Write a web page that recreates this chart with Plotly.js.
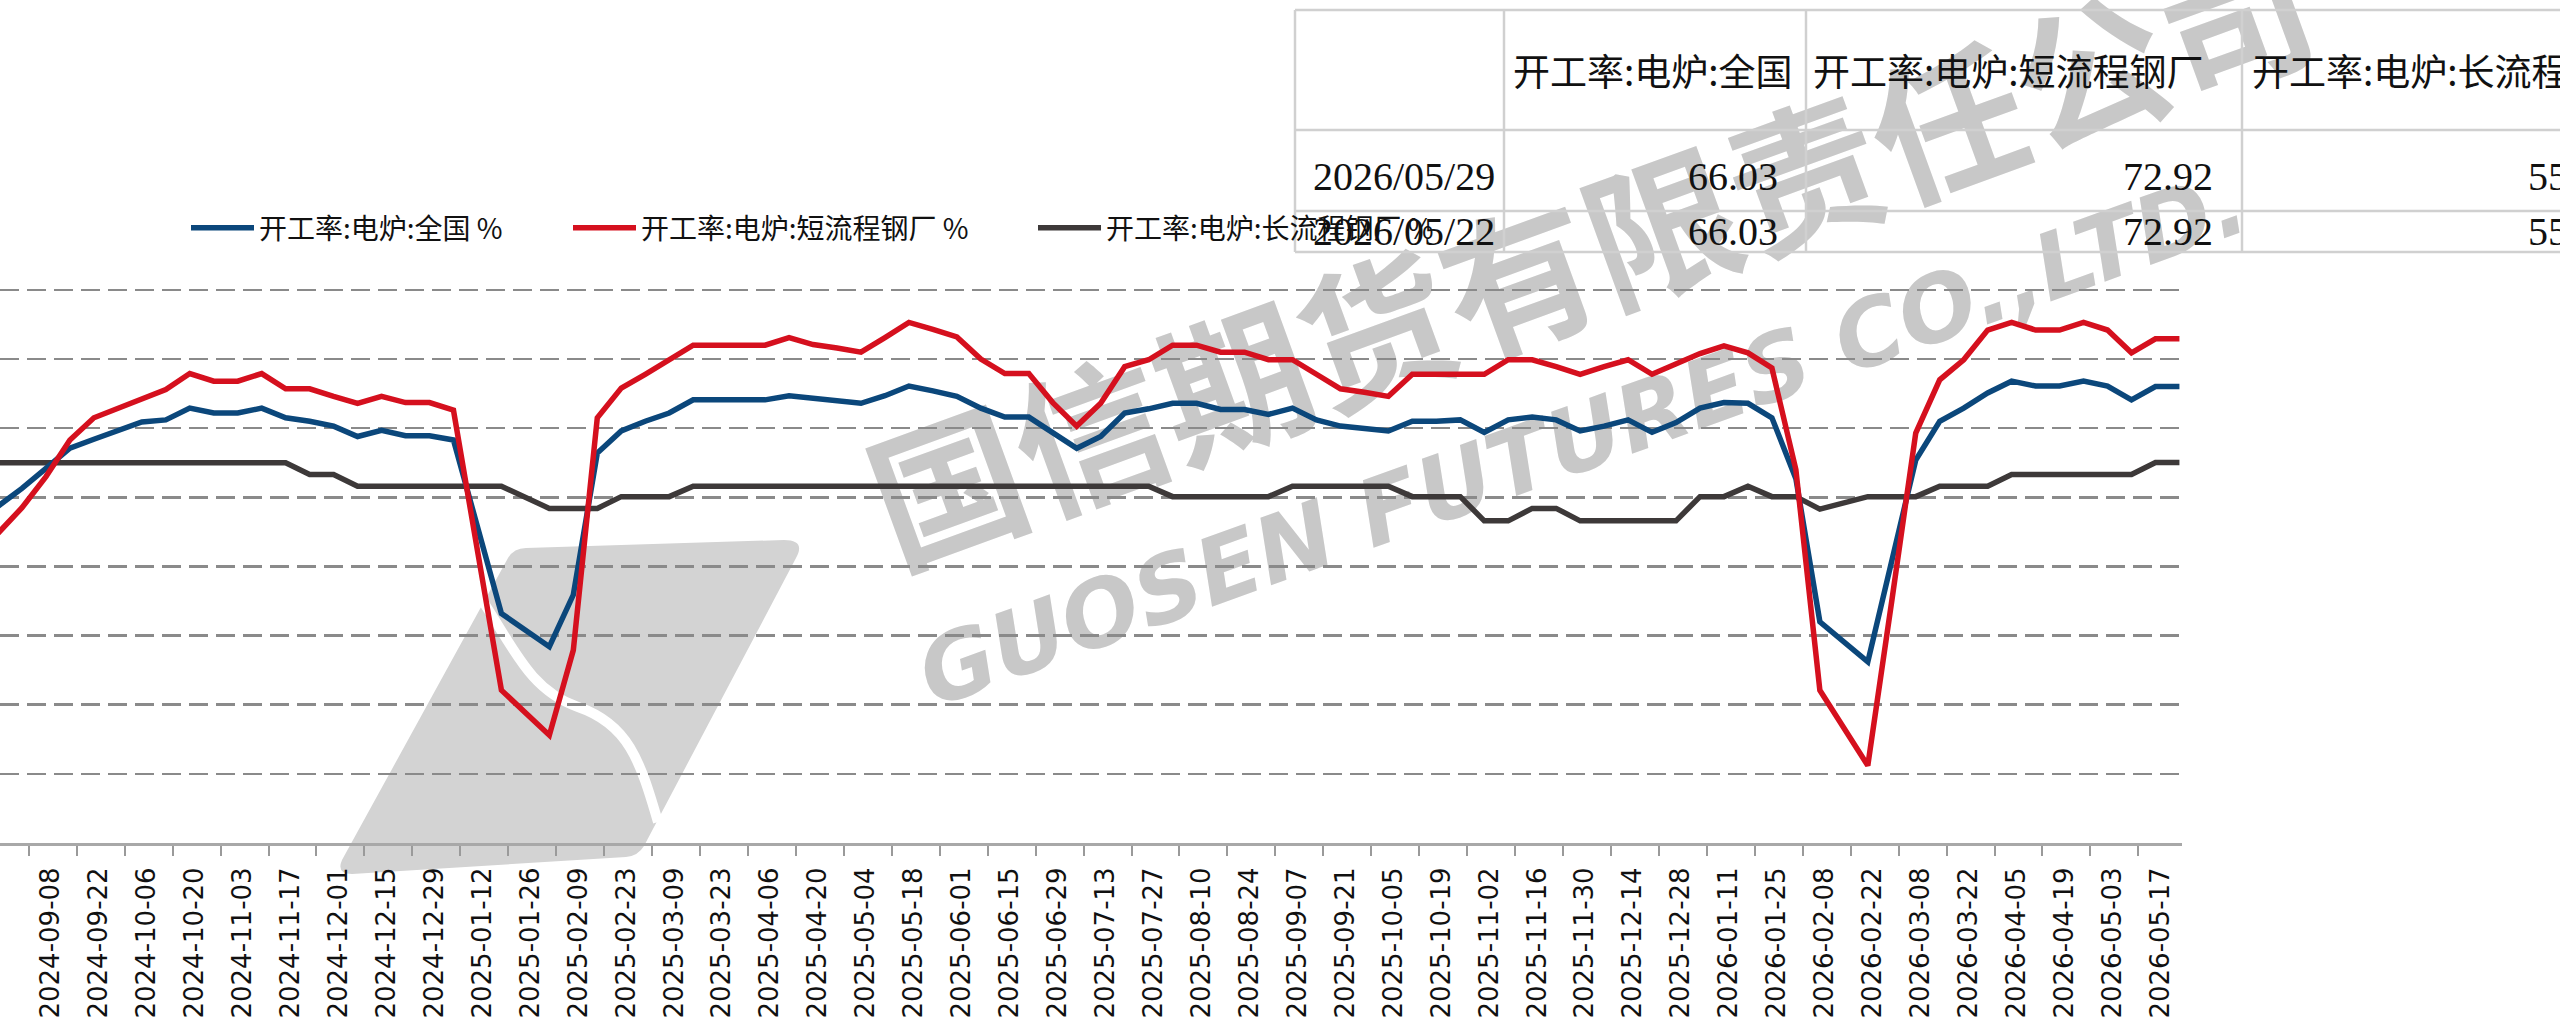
<!DOCTYPE html>
<html><head><meta charset="utf-8">
<script src="https://cdn.plot.ly/plotly-3.0.1.min.js"></script>
<style>
html,body{margin:0;padding:0;background:#fff;width:2560px;height:1026px;overflow:hidden}
#bg,#chart{position:absolute;left:0;top:0;width:2560px;height:1026px}
</style></head><body>
<div id="bg"></div><div id="chart"></div>
<script>
// ---------- data ----------
const dates = [
'2024-08-30','2024-09-06','2024-09-13','2024-09-20','2024-09-27','2024-10-04','2024-10-11','2024-10-18','2024-10-25','2024-11-01',
'2024-11-08','2024-11-15','2024-11-22','2024-11-29','2024-12-06','2024-12-13','2024-12-20','2024-12-27','2025-01-03','2025-01-10',
'2025-01-17','2025-01-24','2025-02-07','2025-02-14','2025-02-21','2025-02-28','2025-03-07','2025-03-14','2025-03-21','2025-03-28',
'2025-04-04','2025-04-11','2025-04-18','2025-04-25','2025-05-02','2025-05-09','2025-05-16','2025-05-23','2025-05-30','2025-06-06',
'2025-06-13','2025-06-20','2025-06-27','2025-07-04','2025-07-11','2025-07-18','2025-07-25','2025-08-01','2025-08-08','2025-08-15',
'2025-08-22','2025-08-29','2025-09-05','2025-09-12','2025-09-19','2025-09-26','2025-10-03','2025-10-10','2025-10-17','2025-10-24',
'2025-10-31','2025-11-07','2025-11-14','2025-11-21','2025-11-28','2025-12-05','2025-12-12','2025-12-19','2025-12-26','2026-01-02',
'2026-01-09','2026-01-16','2026-01-23','2026-01-30','2026-02-06','2026-02-13','2026-02-27','2026-03-06','2026-03-13','2026-03-20',
'2026-03-27','2026-04-03','2026-04-10','2026-04-17','2026-04-24','2026-05-01','2026-05-08','2026-05-15','2026-05-22','2026-05-29'];

const national = [
48.7,51.3,54.2,57.1,58.4,59.6,60.9,61.2,62.9,62.2,
62.2,62.9,61.5,61.0,60.3,58.8,59.7,58.9,58.9,58.3,
45.8,33.2,28.4,35.9,56.4,59.6,61.0,62.2,64.1,64.1,
64.1,64.1,64.7,64.4,64.0,63.6,64.7,66.1,65.4,64.6,
62.9,61.6,61.6,59.3,57.1,58.8,62.2,62.8,63.6,63.6,
62.7,62.7,62.0,62.9,61.2,60.3,60.0,59.6,61.0,61.0,
61.2,59.4,61.2,61.6,61.2,59.6,60.3,61.2,59.4,60.8,
62.9,63.7,63.6,61.5,52.7,32.0,26.2,40.5,55.4,61.0,
62.9,65.1,66.8,66.1,66.1,66.8,66.1,64.1,66.03,66.03];

const shortProcess = [
44.8,48.5,53.0,58.3,61.5,62.9,64.4,65.6,67.9,66.8,
66.8,67.9,65.7,65.7,64.6,63.6,64.6,63.7,63.7,62.6,
42.3,22.1,15.6,27.9,61.5,65.8,67.8,69.9,72.0,72.0,
72.0,72.0,73.1,72.1,71.6,71.0,73.1,75.3,74.3,73.2,
70.0,67.9,67.9,63.7,60.3,63.6,68.9,69.9,72.0,72.0,
71.0,71.0,69.9,69.9,67.8,65.7,65.2,64.6,67.8,67.8,
67.8,67.8,69.9,69.9,68.9,67.8,68.9,69.9,67.8,69.2,
70.8,71.9,70.9,68.7,54.0,22.1,11.2,35.0,59.3,67.0,
69.9,74.2,75.3,74.2,74.2,75.3,74.2,70.9,72.92,72.92];

const longProcess = [
55.0,55.0,55.0,55.0,55.0,55.0,55.0,55.0,55.0,55.0,
55.0,55.0,55.0,53.3,53.3,51.6,51.6,51.6,51.6,51.6,
51.6,51.6,48.4,48.4,48.4,50.1,50.1,50.1,51.6,51.6,
51.6,51.6,51.6,51.6,51.6,51.6,51.6,51.6,51.6,51.6,
51.6,51.6,51.6,51.6,51.6,51.6,51.6,51.6,50.1,50.1,
50.1,50.1,50.1,51.6,51.6,51.6,51.6,51.6,50.1,50.1,
50.1,46.6,46.6,48.4,48.4,46.6,46.6,46.6,46.6,46.6,
50.1,50.1,51.6,50.1,50.1,48.3,50.1,50.1,50.1,51.6,
51.6,51.6,53.3,53.3,53.3,53.3,53.3,53.3,55.04,55.04];

const seriesNames = ['开工率:电炉:全国','开工率:电炉:短流程钢厂','开工率:电炉:长流程钢厂'];
const unitLabel = '%';

const tickDates = [
'2024-09-08','2024-09-22','2024-10-06','2024-10-20','2024-11-03','2024-11-17','2024-12-01','2024-12-15','2024-12-29',
'2025-01-12','2025-01-26','2025-02-09','2025-02-23','2025-03-09','2025-03-23','2025-04-06','2025-04-20','2025-05-04',
'2025-05-18','2025-06-01','2025-06-15','2025-06-29','2025-07-13','2025-07-27','2025-08-10','2025-08-24','2025-09-07',
'2025-09-21','2025-10-05','2025-10-19','2025-11-02','2025-11-16','2025-11-30','2025-12-14','2025-12-28','2026-01-11',
'2026-01-25','2026-02-08','2026-02-22','2026-03-08','2026-03-22','2026-04-05','2026-04-19','2026-05-03','2026-05-17'];

const tableDates = ['2026-05-29','2026-05-22'];
const watermarkCN = '国信期货有限责任公司';
const watermarkEN = 'GUOSEN FUTURES CO.,LTD.';

// ---------- geometry ----------
const W = 2560, H = 1026, ML = 0, MR = 378, MT = 283, MB = 183;
const PW = W - ML - MR, PH = H - MT - MB;
const px2x = px => (px - ML) / PW;
const py2y = py => (H - MB - py) / PH;

const colors = ['#0b477b', '#d5101e', '#3d3939'];
const seriesData = [national, shortProcess, longProcess];
const legendIds = ['legend', 'legend2', 'legend3'];

const traces = [2, 0, 1].map(i => ({
  type: 'scatter', mode: 'lines', x: dates, y: seriesData[i],
  name: seriesNames[i] + ' ' + unitLabel,
  legend: legendIds[i],
  line: { color: colors[i], width: 5.5, shape: 'linear' },
  hoverinfo: 'skip'
}));

const legFont = { family: 'Noto Sans CJK SC, sans-serif', size: 28, color: '#111' };
const legendBase = { orientation: 'h', xanchor: 'left', yanchor: 'middle', bgcolor: 'rgba(0,0,0,0)',
  borderwidth: 0, font: legFont, itemwidth: 63, tracegroupgap: 0 };

// ---------- table (borders + text) ----------
const colX = [1295, 1504, 1806, 2242];
const rowY = [10, 130, 211, 252];
const lineStyle = { color: '#d0d0d0', width: 2.5 };
const shapes = [];
colX.forEach(x => shapes.push({ type: 'line', xref: 'paper', yref: 'paper',
  x0: px2x(x), x1: px2x(x), y0: py2y(rowY[0]), y1: py2y(rowY[3]), line: lineStyle, layer: 'above' }));
rowY.forEach(y => shapes.push({ type: 'line', xref: 'paper', yref: 'paper',
  x0: px2x(colX[0]), x1: px2x(2700), y0: py2y(y), y1: py2y(y), line: lineStyle, layer: 'above' }));

const annotations = [];
const headFont = { family: 'Noto Sans CJK SC, serif', size: 37, color: '#111' };
const cellFont = { family: 'Liberation Serif, Noto Sans CJK SC, serif', size: 40, color: '#111' };
const headX = [1511, 1811, 2250];
seriesNames.forEach((n, i) => annotations.push({ xref: 'paper', yref: 'paper', x: px2x(headX[i]), y: py2y(70),
  xanchor: 'left', yanchor: 'middle', text: n, showarrow: false, font: headFont }));
const rowCenters = [176, 231];
const valRight = [1780, 2215, 2620];
tableDates.forEach((d, r) => {
  const idx = dates.indexOf(d);
  annotations.push({ xref: 'paper', yref: 'paper', x: px2x(1497), y: py2y(rowCenters[r]), xanchor: 'right', yanchor: 'middle',
    text: d.replace(/-/g, '/'), showarrow: false, font: cellFont });
  seriesData.forEach((s, i) => annotations.push({ xref: 'paper', yref: 'paper', x: px2x(valRight[i]), y: py2y(rowCenters[r]),
    xanchor: 'right', yanchor: 'middle', text: s[idx].toFixed(2), showarrow: false, font: cellFont }));
});

const layout = {
  width: W, height: H,
  margin: { l: ML, r: MR, t: MT, b: MB, autoexpand: false },
  paper_bgcolor: 'rgba(0,0,0,0)', plot_bgcolor: 'rgba(0,0,0,0)',
  showlegend: true,
  legend: Object.assign({}, legendBase, { x: px2x(186), y: py2y(228) }),
  legend2: Object.assign({}, legendBase, { x: px2x(568), y: py2y(228) }),
  legend3: Object.assign({}, legendBase, { x: px2x(1033), y: py2y(228) }),
  xaxis: {
    type: 'date', range: ['2024-08-30 14:00', '2026-05-29 18:00'],
    tickmode: 'array', tickvals: tickDates, ticktext: tickDates,
    tickangle: -90, ticks: 'outside', ticklen: 10, tickwidth: 2, tickcolor: '#9a9a9a',
    ticklabelshift: 22, ticklabelstandoff: 1,
    tickfont: { family: 'DejaVu Sans, sans-serif', size: 26, color: '#111' },
    showline: true, linecolor: '#a8a8a8', linewidth: 3, showgrid: false, zeroline: false, fixedrange: true
  },
  yaxis: {
    range: [0, 81], tickmode: 'linear', tick0: 0, dtick: 10, showticklabels: false, ticks: '',
    showgrid: true, gridcolor: '#8a8a8a', gridwidth: 2.6, griddash: '19px,8px',
    zeroline: false, showline: false, fixedrange: true
  },
  shapes: shapes,
  annotations: annotations
};

// ---------- watermark layer (behind chart) ----------
const wmGray = '#c8c8c8';
const bgLayout = {
  width: W, height: H, margin: { l: 0, r: 0, t: 0, b: 0, autoexpand: false },
  paper_bgcolor: '#ffffff', plot_bgcolor: '#ffffff', showlegend: false,
  xaxis: { range: [0, W], visible: false, fixedrange: true },
  yaxis: { range: [H, 0], visible: false, fixedrange: true },
  shapes: [
    { type: 'path', xref: 'x', yref: 'y', layer: 'below', line: { width: 0 }, fillcolor: '#d3d3d3',
      path: 'M 352 874 Q 336 874 342 860 L 508 558 Q 514 548 526 548 L 784 540 Q 806 540 796 558 L 644 846 Q 638 856 626 857 Z' },
    { type: 'path', xref: 'x', yref: 'y', layer: 'above', line: { width: 10, color: '#ffffff' },
      path: 'M 482 600 C 515 650, 530 690, 578 707 C 628 724, 640 760, 658 822' }
  ],
  annotations: [
    { xref: 'x', yref: 'y', x: 1588, y: 246, text: watermarkCN, showarrow: false, textangle: -20,
      font: { family: 'Noto Sans CJK SC, sans-serif', size: 152, weight: 'bold', color: wmGray } },
    { xref: 'x', yref: 'y', x: 1582, y: 438, text: watermarkEN, showarrow: false, textangle: -20,
      font: { family: 'DejaVu Sans, sans-serif', size: 92, weight: 'bold', style: 'italic', color: wmGray } }
  ]
};

Plotly.newPlot('bg', [], bgLayout, { staticPlot: true, displayModeBar: false });
Plotly.newPlot('chart', traces, layout, { staticPlot: true, displayModeBar: false }).then(gd => {
  gd.querySelectorAll('.legendlines path').forEach(p => p.setAttribute('d', 'M5,0h63'));
});
</script>
</body></html>
